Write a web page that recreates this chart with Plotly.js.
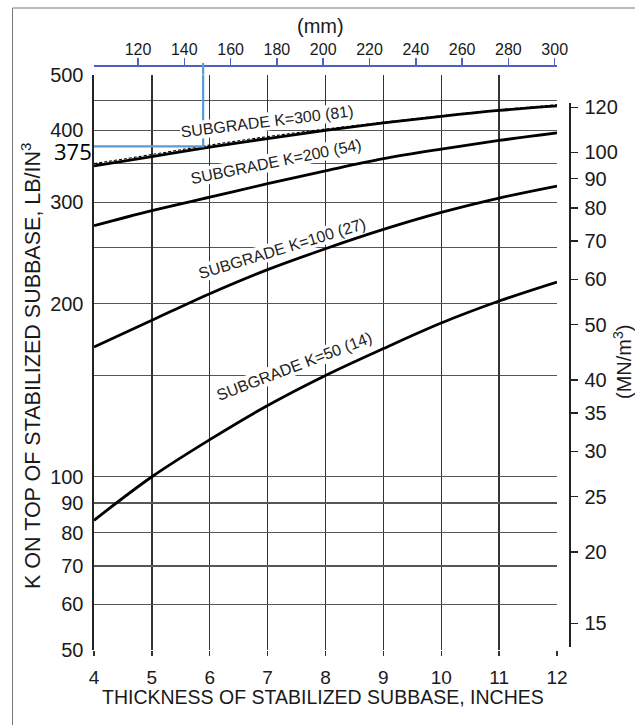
<!DOCTYPE html>
<html><head><meta charset="utf-8">
<script src="https://cdn.plot.ly/plotly-3.0.1.min.js"></script>
<style>html,body{margin:0;padding:0;background:#fff}#chart{width:635px;height:725px}</style>
</head><body><div id="chart"></div>
<script>
// ---- data ----
const thicknessIn = [4, 5, 6, 7, 8, 9, 10, 11, 12];
const k300 = [347, 360, 374, 387, 400, 412, 423, 433, 441];
const k300Dashed = [350, 363, 377, 390, 402, 413, 424, 434, 443];
const k200 = [273, 290, 306, 323, 340, 357, 371, 384, 396];
const k100 = [168, 187, 208, 229, 249, 269, 288, 305, 320];
const k50 = [84, 100, 116, 133, 150, 167, 185, 202, 218];
const curveLabels = ['SUBGRADE K=300 (81)', 'SUBGRADE K=200 (54)', 'SUBGRADE K=100 (27)', 'SUBGRADE K=50 (14)'];
const leftTicks = [50, 60, 70, 80, 90, 100, 200, 300, 400, 500];
const leftMinorGrid = [150, 250, 350, 450];
const rightTicks = [15, 20, 25, 30, 35, 40, 50, 60, 70, 80, 90, 100, 120];
const mmTicks = [120, 140, 160, 180, 200, 220, 240, 260, 280, 300];
const bottomTicks = [4, 5, 6, 7, 8, 9, 10, 11, 12];
const readK = 375;
const readThickness = 5.886;
const readLabel = '375';
const xTitle = 'THICKNESS OF STABILIZED SUBBASE, INCHES';
const yTitle = 'K ON TOP OF STABILIZED SUBBASE, LB/IN<sup>3</sup>';
const y2Title = '(MN/m<sup>3</sup>)';
const mmTitle = '(mm)';

// ---- layout geometry ----
const W = 635, H = 725, L = 94, R = 35, T = 65, B = 75;
const pw = W - L - R, ph = H - T - B;
const fx = px => (px - L) / pw;
const fy = py => (H - B - py) / ph;
const FONT = 'Liberation Sans, Arial, sans-serif';
const ink = '#1a1a1a';

const curve = () => ({color: '#000', width: 2.8, shape: 'spline', smoothing: 1});
const traces = [
  {x: thicknessIn, y: k300, mode: 'lines', line: curve()},
  {x: thicknessIn, y: k300Dashed, mode: 'lines', line: {color: '#000', width: 1.1, dash: '3px,2px', shape: 'spline'}},
  {x: thicknessIn, y: k200, mode: 'lines', line: curve()},
  {x: thicknessIn, y: k100, mode: 'lines', line: curve()},
  {x: thicknessIn, y: k50, mode: 'lines', line: curve()},
  {x: [thicknessIn[0], readThickness, readThickness], y: [readK, readK, leftTicks[leftTicks.length - 1]],
   mode: 'lines', line: {color: '#5b9bd5', width: 2.2}},
  {x: [null], y: [null], xaxis: 'x2', yaxis: 'y', mode: 'lines'},
  {x: [null], y: [null], xaxis: 'x3', yaxis: 'y2', mode: 'lines'}
];
traces.forEach(t => { t.showlegend = false; t.hoverinfo = 'skip'; });

const gridBlack = '#333';
const labelFont = {size: 16, family: FONT, color: '#222'};
const curveLabel = (i, px, py, ang) => ({
  xref: 'paper', yref: 'paper', x: fx(px), y: fy(py), text: curveLabels[i], showarrow: false,
  textangle: ang, xanchor: 'center', yanchor: 'middle', font: labelFont,
  bgcolor: '#fff', borderpad: 0
});
const layout = {
  width: W, height: H,
  margin: {l: L, r: R, t: T, b: B, pad: 0},
  paper_bgcolor: '#fff', plot_bgcolor: 'rgba(0,0,0,0)',
  font: {family: FONT, color: ink},
  showlegend: false,
  xaxis: {
    domain: [0, fx(557)], range: [4, 12], type: 'linear',
    tickvals: bottomTicks, ticks: 'outside', ticklen: 5, tickcolor: gridBlack, tickwidth: 1.3,
    showgrid: true, gridcolor: gridBlack, gridwidth: 1.3, ticklabelstandoff: 5,
    showline: false, zeroline: false,
    tickfont: {size: 19, family: FONT, color: ink}
  },
  yaxis: {
    domain: [0, fy(74.5)], type: 'log', range: [Math.log10(50), Math.log10(500)],
    tickvals: leftTicks, ticktext: leftTicks.map(String), ticks: '', ticklabelstandoff: 4,
    showgrid: true, gridcolor: '#555', gridwidth: 1.3,
    minor: {tickvals: leftMinorGrid, showgrid: true, gridcolor: '#555', gridwidth: 1.3, ticks: ''},
    showline: true, linecolor: '#222', linewidth: 2.5, zeroline: false,
    tickfont: {size: 20, family: FONT, color: ink}
  },
  xaxis2: {
    overlaying: 'x', anchor: 'free', position: 1, side: 'top',
    range: [101, 301], tickvals: mmTicks, ticks: 'outside', ticklen: 7,
    tickcolor: '#5060c0', tickwidth: 1.5, showline: true, linecolor: '#5060c0', linewidth: 1.5,
    showgrid: false, zeroline: false, ticklabelstandoff: -3,
    tickfont: {size: 16, family: FONT, color: ink}
  },
  xaxis3: {visible: false, anchor: 'y2', domain: [0, fx(557)], range: [0, 1]},
  yaxis2: {
    anchor: 'free', position: fx(569), side: 'right',
    domain: [fy(647), fy(103)], type: 'log', range: [1.1346, 2.0866],
    tickvals: rightTicks, ticktext: rightTicks.map(String),
    ticks: 'outside', ticklen: 7, tickcolor: '#222', tickwidth: 1.3,
    showline: true, linecolor: '#222', linewidth: 1.5,
    showgrid: false, zeroline: false, ticklabelstandoff: 3,
    tickfont: {size: 20, family: FONT, color: ink}
  },
  shapes: [
    {type: 'line', xref: 'x', yref: 'paper', x0: readThickness, x1: readThickness,
     y0: fy(74.5), y1: fy(63), line: {color: '#5b9bd5', width: 2.2}},
    {type: 'rect', xref: 'paper', yref: 'paper', x0: fx(12.5), x1: fx(645), y0: fy(735), y1: fy(8),
     line: {color: '#777', width: 1}, fillcolor: 'rgba(0,0,0,0)', layer: 'below'}
  ],
  annotations: [
    {xref: 'paper', yref: 'paper', x: fx(320), y: fy(26), text: mmTitle, showarrow: false,
     xanchor: 'center', yanchor: 'middle', font: {size: 20, family: FONT, color: ink}},
    {xref: 'paper', yref: 'paper', x: fx(323), y: fy(697), text: xTitle, showarrow: false,
     xanchor: 'center', yanchor: 'middle', font: {size: 19.5, family: FONT, color: ink}},
    {xref: 'paper', yref: 'paper', x: fx(31), y: fy(366), text: yTitle, showarrow: false, textangle: -90,
     xanchor: 'center', yanchor: 'middle', font: {size: 21.5, family: FONT, color: ink}},
    {xref: 'paper', yref: 'paper', x: fx(622), y: fy(362), text: y2Title, showarrow: false, textangle: -90,
     xanchor: 'center', yanchor: 'middle', font: {size: 20, family: FONT, color: ink}},
    {xref: 'paper', yref: 'paper', x: fx(94), y: fy(151), text: readLabel, showarrow: false,
     xanchor: 'right', yanchor: 'middle', font: {size: 22, family: 'Open Sans, sans-serif', color: '#000'}},
    curveLabel(0, 267, 121, -7),
    curveLabel(1, 276, 161, -11.5),
    curveLabel(2, 282, 248, -17),
    curveLabel(3, 294, 367, -21)
  ]
};

Plotly.newPlot('chart', traces, layout, {staticPlot: true, displayModeBar: false});
</script>
</body></html>
